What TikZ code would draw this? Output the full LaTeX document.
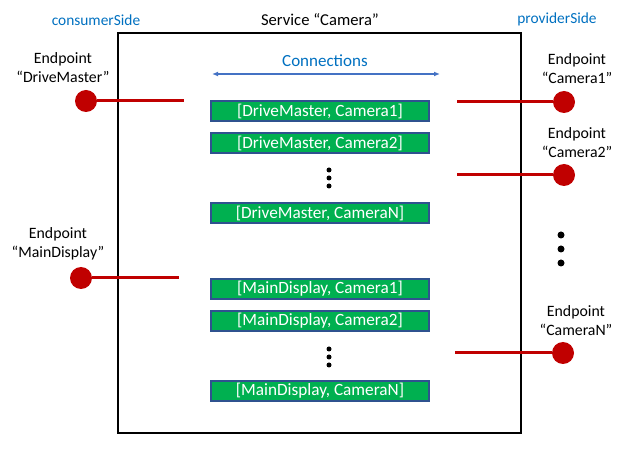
\documentclass[tikz,border=0pt]{standalone}
\usepackage{fontspec}
\setmainfont{Carlito}
\usetikzlibrary{arrows.meta}

\definecolor{epred}{RGB}{192,0,0}
\definecolor{conngreen}{RGB}{0,176,80}
\definecolor{connedge}{RGB}{47,82,143}
\definecolor{sideblue}{RGB}{0,112,192}
\definecolor{arrowblue}{RGB}{68,114,196}

\tikzset{
    endpoint/.style={circle, fill=epred, minimum size=22pt, inner sep=0pt},
    eplabel/.style={align=center, font=\fontsize{15.8}{19}\selectfont},
    wire/.style={epred, line width=3pt},
    connbox/.style={draw=connedge, fill=conngreen, line width=1.2pt,
        minimum width=218pt, minimum height=20pt, inner sep=0pt,
        text=white, font=\fontsize{17.2}{17.2}\selectfont},
    vdot/.style={circle, fill=black, minimum size=5pt, inner sep=0pt}
}

\begin{document}
\begin{tikzpicture}[x=1pt, y=-1pt]
    \useasboundingbox (0,0) rectangle (641,449);

    % service box
    \draw[line width=1.5pt] (118,33) rectangle (521,433);
    \node[font=\fontsize{16.6}{16.6}\selectfont] (service) at (320,20) {Service “Camera”};
    \node[text=sideblue, font=\fontsize{15.4}{15.4}\selectfont] (consumer) at (96,20) {consumerSide};
    \node[text=sideblue, font=\fontsize{15.4}{15.4}\selectfont] (provider) at (557,19) {providerSide};

    % connections
    \node[text=sideblue, font=\fontsize{17}{17}\selectfont] (connlabel) at (325,61) {Connections};
    \coordinate (connL) at (212,74);
    \coordinate (connR) at (440,74);
    \draw[arrowblue, line width=1.2pt, {Latex[length=6pt,width=5pt]}-{Latex[length=6pt,width=5pt]}] (connL) -- (connR);

    \node[connbox] (dm1) at (320,111) {[DriveMaster, Camera1]};
    \node[connbox] (dm2) at (320,143) {[DriveMaster, Camera2]};
    \node[connbox] (dmN) at (320,213) {[DriveMaster, CameraN]};
    \node[connbox] (md1) at (320,289) {[MainDisplay, Camera1]};
    \node[connbox] (md2) at (320,321) {[MainDisplay, Camera2]};
    \node[connbox] (mdN) at (320,391) {[MainDisplay, CameraN]};

    \foreach \y in {170,178,186} {
        \node[vdot] at (329,\y) {};
    }
    \foreach \y in {349,357,365} {
        \node[vdot] at (329,\y) {};
    }
    \foreach \y in {235,249,263} {
        \node[vdot, minimum size=7pt] at (561,\y) {};
    }

    % consumer side
    \node[eplabel] (lblDM) at (63,68) {Endpoint\\“DriveMaster”};
    \node[endpoint] (epDM) at (86,101) {};
    \coordinate (endDM) at (184,101);
    \draw[wire] (epDM) -- (endDM);

    \node[eplabel] (lblMD) at (58,244) {Endpoint\\“MainDisplay”};
    \node[endpoint] (epMD) at (81,278) {};
    \coordinate (endMD) at (179,278);
    \draw[wire] (epMD) -- (endMD);

    % provider side
    \node[eplabel] (lblC1) at (577,69) {Endpoint\\“Camera1”};
    \node[endpoint] (epC1) at (564,102) {};
    \coordinate (endC1) at (457,102);
    \draw[wire] (epC1) -- (endC1);

    \node[eplabel] (lblC2) at (577,143) {Endpoint\\“Camera2”};
    \node[endpoint] (epC2) at (564,175) {};
    \coordinate (endC2) at (457,175);
    \draw[wire] (epC2) -- (endC2);

    \node[eplabel] (lblCN) at (576,321) {Endpoint\\“CameraN”};
    \node[endpoint] (epCN) at (563,353) {};
    \coordinate (endCN) at (455,353);
    \draw[wire] (epCN) -- (endCN);
\end{tikzpicture}
\end{document}
